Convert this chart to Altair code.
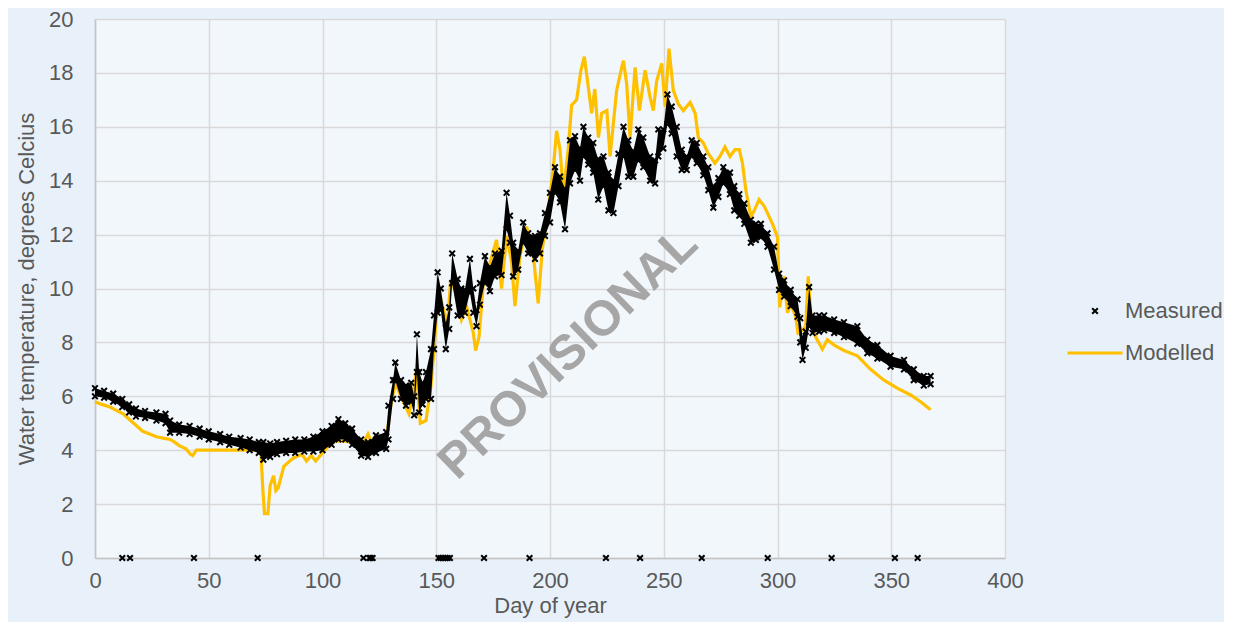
import altair as alt
import pandas as pd

# ---------------- data ----------------
model_day = [0, 3, 6.6, 10, 12.4, 15, 17, 19, 21, 24, 27, 30, 33, 35, 37, 40, 42, 43, 44.5, 50, 60, 70, 72,
             73, 73.8, 74.5, 76, 77, 78.5, 79.5, 80.5, 83, 87, 91, 93, 95, 97, 100, 104, 108, 113, 118, 120,
             121.5, 125, 128, 130, 132, 135, 138, 139.6, 141.3, 143, 145.5, 147.7, 149, 150.6, 152, 153.5,
             155, 156.3, 158.7, 161.1, 163.3, 166.3, 167.3, 168.8, 170.7, 173.6, 176.5, 178.7, 180.9, 183.1,
             184.6, 186.8, 189.7, 192.6, 194.8, 196.6, 199.2, 201.4, 202.9, 204.4, 205.9, 208, 209.5, 211.7,
             213.6, 215.1, 216.8, 218.3, 219.7, 221.3, 222.7, 225, 226.4, 229.3, 231.5, 232.3, 233.7, 235.2,
             237.4, 239.3, 241.8, 244, 245.4, 246.9, 249.1, 250.6, 252.3, 254.2, 256.4, 258.6, 261.6, 263.8,
             265.2, 267.4, 269.6, 272.5, 274.7, 276.9, 279.1, 281.3, 283.2, 284.6, 286.1, 288.3, 289.8, 291.9,
             294.2, 297.8, 300, 301, 302.9, 304.4, 305.8, 308, 309, 311, 312.4, 313.5, 314.9, 316.8, 319.7,
             321.9, 324.9, 329.2, 335.1, 340.9, 346.8, 352.6, 358.5, 362.9, 367.3]
model_temp = [5.8, 5.7, 5.6, 5.45, 5.35, 5.15, 5.0, 4.85, 4.7, 4.6, 4.5, 4.45, 4.4, 4.3, 4.17, 4.05, 3.85, 3.8,
              4.0, 4.0, 4.0, 4.0, 4.0, 3.8, 2.5, 1.65, 1.65, 2.7, 3.05, 2.5, 2.6, 3.4, 3.7, 3.85, 3.6, 3.8,
              3.6, 3.9, 4.3, 4.35, 4.3, 4.25, 4.6, 4.3, 4.35, 4.4, 5.65, 6.5, 5.9, 5.35, 6.0, 6.9, 5.0, 5.1,
              6.4, 7.75, 9.5, 9.6, 9.1, 8.7, 10.3, 9.85, 8.85, 9.35, 8.35, 7.7, 8.2, 10.2, 10.95, 11.8, 10.0,
              11.95, 11.0, 9.35, 11.2, 12.3, 11.3, 9.45, 11.45, 12.95, 14.4, 15.85, 15.15, 13.55, 15.15, 16.8,
              17.0, 18.1, 18.6, 17.5, 16.5, 17.4, 15.6, 16.5, 16.6, 14.9, 17.35, 18.2, 18.45, 17.6, 15.6, 18.2,
              16.6, 18.1, 17.1, 16.6, 17.7, 18.35, 16.75, 18.9, 17.35, 16.85, 16.6, 16.9, 16.5, 15.6, 15.4,
              15.0, 14.65, 14.9, 15.25, 14.9, 15.15, 15.15, 14.65, 13.65, 12.65, 12.9, 13.3, 13.05, 12.4, 11.9,
              9.3, 10.45, 9.1, 9.45, 8.95, 8.35, 8.45, 8.6, 10.45, 8.7, 8.2, 7.75, 8.1, 7.9, 7.7, 7.5, 7.0,
              6.6, 6.3, 6.05, 5.8, 5.5]

meas_day = [0, 4, 8, 12, 15, 18, 22, 27, 31, 33, 37, 41.6, 46, 50, 55, 59, 64, 68, 72, 74, 77, 80, 84, 88, 92,
            96, 100, 104, 107, 110, 113, 117, 120, 123.5, 128, 129, 131, 132, 134.5, 136.7, 139, 140.3, 141.5,
            142.5, 144, 145.5, 147.7, 149, 150.6, 152, 154.2, 155.7, 157, 159.4, 161, 162.6, 164.8, 166.3,
            167.7, 169.2, 171.4, 173.6, 175.8, 178.7, 180.9, 182.4, 183.8, 186, 188.2, 190.4, 193.4, 195.6,
            197.8, 200, 202.2, 204.4, 206.6, 208.8, 211, 213.2, 214.7, 216.8, 219, 221.2, 223.5, 225.7, 227.9,
            230.1, 232.3, 234.4, 236.6, 238.8, 241, 244, 246.2, 247.6, 249.8, 251.6, 253.5, 255.7, 257.9,
            260.1, 262.3, 264.5, 267.4, 269.6, 271.8, 274, 276.2, 279.1, 281, 283.2, 285.4, 288.3, 290.5,
            292.7, 295.6, 298.5, 300.7, 302.9, 305.8, 308.8, 310, 311, 312.4, 313.9, 315.4, 318.3, 320.5,
            324.9, 329.2, 335.1, 339.5, 343.9, 349.7, 355.6, 359.9, 364.3, 367.3]
meas_lo = [6.0, 5.95, 5.8, 5.6, 5.4, 5.25, 5.2, 5.1, 5.0, 4.65, 4.65, 4.6, 4.5, 4.4, 4.3, 4.2, 4.1, 4.0, 3.9,
           3.65, 3.75, 3.85, 3.9, 3.9, 3.95, 3.95, 4.0, 4.2, 4.4, 4.4, 4.2, 3.8, 3.75, 3.9, 4.05, 4.4, 5.9, 6.6,
           5.9, 5.65, 5.8, 5.3, 6.9, 5.4, 5.7, 5.9, 5.9, 7.75, 9.1, 9.2, 7.75, 8.5, 10.2, 9.0, 9.0, 9.1, 9.85,
           9.1, 8.6, 9.4, 10.2, 9.9, 10.45, 10.5, 12.2, 11.7, 10.45, 10.7, 11.7, 11.3, 11.1, 11.3, 11.95,
           12.45, 13.55, 13.2, 12.2, 13.9, 14.4, 14.0, 14.9, 14.6, 14.3, 13.3, 13.8, 12.9, 12.8, 13.8, 14.9,
           14.15, 14.15, 14.75, 14.5, 14.0, 13.9, 14.9, 15.2, 16.1, 15.75, 14.9, 14.4, 14.4, 14.9, 14.65,
           14.2, 13.65, 13.0, 13.4, 13.9, 13.5, 12.9, 12.7, 12.4, 11.7, 11.8, 11.9, 11.55, 10.7, 9.95, 9.7,
           9.35, 8.95, 8.0, 7.35, 7.8, 8.6, 8.35, 8.4, 8.45, 8.35, 8.2, 7.95, 7.6, 7.4, 7.1, 7.0, 6.6, 6.4,
           6.45]
meas_hi = [6.3, 6.2, 6.1, 5.9, 5.7, 5.55, 5.45, 5.4, 5.35, 5.1, 4.95, 4.9, 4.8, 4.7, 4.6, 4.5, 4.45, 4.4, 4.3,
           4.3, 4.25, 4.3, 4.35, 4.4, 4.4, 4.5, 4.7, 4.9, 5.15, 5.0, 4.8, 4.4, 4.3, 4.55, 4.67, 5.65, 6.6,
           7.25, 6.6, 6.4, 6.5, 6.0, 8.3, 6.9, 6.5, 6.9, 7.75, 9.0, 10.6, 10.0, 8.7, 9.3, 11.3, 10.35, 10.0,
           9.95, 11.1, 10.0, 9.2, 10.2, 11.2, 10.8, 11.3, 11.4, 13.55, 12.7, 11.7, 11.4, 12.45, 12.05, 11.95,
           12.05, 12.8, 13.55, 14.5, 14.15, 13.7, 15.5, 15.65, 15.2, 16.0, 15.6, 15.4, 14.8, 14.9, 14.3, 14.0,
           15.0, 16.0, 15.5, 15.1, 15.9, 15.6, 14.9, 14.75, 15.9, 15.9, 17.2, 16.75, 16.0, 15.15, 14.9, 15.5,
           15.4, 14.9, 14.5, 13.8, 14.1, 14.5, 14.3, 13.8, 13.5, 13.15, 12.55, 12.4, 12.4, 12.05, 11.55,
           10.55, 10.3, 9.95, 9.6, 8.9, 8.2, 8.4, 10.05, 9.0, 9.0, 9.0, 8.85, 8.75, 8.6, 8.1, 7.9, 7.5, 7.35,
           7.0, 6.75, 6.75]

zero_days = [12, 15.4, 43.5, 71.5, 118, 120.6, 121.2, 122, 151, 152, 153, 154, 155, 156, 171, 191, 224.6,
             239.6, 266.7, 295.7, 323.8, 351.6, 361.6]

series_names = ["Measured", "Modelled"]
x_ticks = [0, 50, 100, 150, 200, 250, 300, 350, 400]
y_ticks = [0, 2, 4, 6, 8, 10, 12, 14, 16, 18, 20]
x_title = "Day of year"
y_title = "Water temperature, degrees Celcius"
watermark = "PROVISIONAL"

# ---------------- tables ----------------
band = pd.DataFrame({"day": meas_day, "lo": meas_lo, "hi": meas_hi})
pts = pd.DataFrame({
    "day": meas_day + meas_day + zero_days,
    "temp": meas_lo + meas_hi + [0.0] * len(zero_days),
    "series": series_names[0],
})
model = pd.DataFrame({"day": model_day, "temp": model_temp, "series": series_names[1]})

FONT = "Liberation Sans"
GREY = "#595959"

xscale = alt.Scale(domain=[0, 400], nice=False)
yscale = alt.Scale(domain=[0, 20], nice=False)
xaxis = alt.Axis(values=x_ticks, title=x_title, grid=True, ticks=False, labelPadding=12,
                 titlePadding=4, labelFlush=False)
yaxis = alt.Axis(values=y_ticks, title=y_title, grid=True, ticks=False, labelPadding=22,
                 titlePadding=10, labelFlush=False)

X = alt.X("day:Q", scale=xscale, axis=xaxis)

line = alt.Chart(model).mark_line(strokeWidth=3.2, interpolate="linear").encode(
    x=X,
    y=alt.Y("temp:Q", scale=yscale, axis=yaxis),
    color=alt.Color("series:N",
                    scale=alt.Scale(domain=[series_names[1]], range=["#ffc000"]),
                    legend=alt.Legend(title=None, orient="none", legendX=971, legendY=305,
                                      symbolType="stroke", symbolSize=3025, symbolStrokeWidth=3,
                                      labelOffset=1, padding=0)),
)

area = alt.Chart(band).mark_area(color="black", opacity=1).encode(
    x=X,
    y=alt.Y("lo:Q", scale=yscale, axis=yaxis),
    y2="hi:Q",
)

CROSS = "M-1,-1L1,1M-1,1L1,-1"
points = alt.Chart(pts).mark_point(filled=False, stroke="black", strokeWidth=2, size=32,
                                   opacity=1).encode(
    x=X,
    y=alt.Y("temp:Q", scale=yscale, axis=yaxis),
    shape=alt.Shape("series:N",
                    scale=alt.Scale(domain=[series_names[0]], range=[CROSS]),
                    legend=alt.Legend(title=None, orient="none", legendX=989, legendY=281,
                                      symbolStrokeColor="black", symbolStrokeWidth=2,
                                      symbolSize=32, symbolFillColor="transparent",
                                      labelOffset=19, padding=0)),
)

wm = alt.Chart(pd.DataFrame({"t": [watermark]})).mark_text(
    angle=316, fontSize=49, fontWeight="bold", color="#a6a6a6", font=FONT
).encode(
    x=alt.datum(208), y=alt.datum(7.6), text="t:N"
)

chart = alt.layer(wm, line, area, points).properties(
    width=910, height=539,
    autosize=alt.AutoSizeParams(type="none"),
    padding={"left": 87, "top": 11, "right": 219, "bottom": 64},
    background="#e8f1fa",
).resolve_legend(
    color="independent", shape="independent"
).configure_view(
    stroke=None,
    fill="#f2f7fc",
).configure_axis(
    labelFont=FONT, titleFont=FONT, labelFontSize=22, titleFontSize=22,
    labelColor=GREY, titleColor=GREY, titleFontWeight="normal",
    gridColor="#d9d9d9", gridWidth=1.5, domainColor="#c4c4c4", domainWidth=1.5,
).configure_legend(
    labelFont=FONT, labelFontSize=22, labelColor=GREY,
)

chart.save("out.html", embed_options={"renderer": "svg", "actions": False})
